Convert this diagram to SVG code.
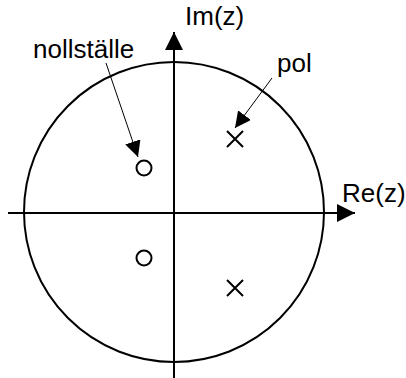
<svg xmlns="http://www.w3.org/2000/svg" width="406" height="378" viewBox="0 0 406 378">
<style>
text{font-family:"Liberation Sans",Arial,sans-serif;font-size:26px;fill:#000}
.ax{stroke:#000;stroke-width:2;fill:none}
.ln{stroke:#000;stroke-width:1;fill:none}
.mk{stroke:#000;stroke-width:2;fill:none}
</style>
<defs>
<marker id="big" viewBox="0 0 18 18" refX="18" refY="9" markerWidth="18" markerHeight="18" markerUnits="userSpaceOnUse" orient="auto"><path d="M0,0 L18,9 L0,18 Z" fill="#000"/></marker>
<marker id="small" viewBox="0 0 16 16" refX="16" refY="8" markerWidth="16" markerHeight="16" markerUnits="userSpaceOnUse" orient="auto"><path d="M0,0 L16,8 L0,16 Z" fill="#000"/></marker>
</defs>
<g id="unit-circle"><circle cx="174" cy="212" r="150" class="ax"/></g>
<g id="connectors">
<line x1="174" y1="378" x2="174" y2="32" class="ax" marker-end="url(#big)"/>
<line x1="8" y1="213" x2="355" y2="213" class="ax" marker-end="url(#big)"/>
<line x1="106" y1="63" x2="138" y2="157" class="ln" marker-end="url(#small)"/>
<line x1="272" y1="78" x2="235" y2="128" class="ln" marker-end="url(#small)"/>
</g>
<g id="zero1"><circle cx="144" cy="168" r="7.5" class="mk"/></g>
<g id="zero2"><circle cx="144" cy="258" r="7.5" class="mk"/></g>
<g id="pole1"><path d="M227,131 L243,147 M243,131 L227,147" class="mk"/></g>
<g id="pole2"><path d="M227,280 L243,296 M243,280 L227,296" class="mk"/></g>
<g id="label-im"><text x="185" y="25">Im(z)</text></g>
<g id="label-re"><text x="342" y="202">Re(z)</text></g>
<g id="label-noll"><text x="33" y="58">nollställe</text></g>
<g id="label-pol"><text x="277" y="72">pol</text></g>
</svg>
